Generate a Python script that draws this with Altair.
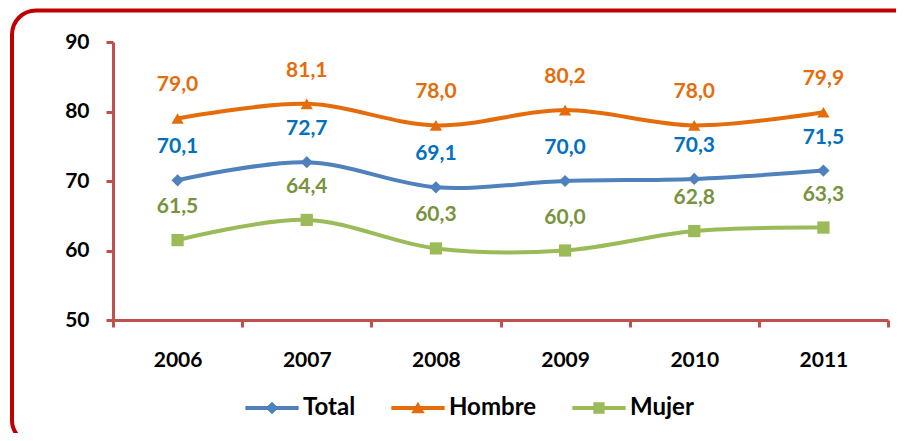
import altair as alt
import pandas as pd

years = ["2006", "2007", "2008", "2009", "2010", "2011"]
total = [70.1, 72.7, 69.1, 70.0, 70.3, 71.5]
hombre = [79.0, 81.1, 78.0, 80.2, 78.0, 79.9]
mujer = [61.5, 64.4, 60.3, 60.0, 62.8, 63.3]

series_names = ["Total", "Hombre", "Mujer"]
line_colors = ["#4F81BD", "#E46C0A", "#9BBB59"]
label_colors = ["#0070C0", "#E46C0A", "#77933C"]
marker_shapes = ["diamond", "triangle-up", "square"]

rows = []
for name, vals, lc in zip(series_names, [total, hombre, mujer], label_colors):
    for y, v in zip(years, vals):
        rows.append({"year": y, "value": v, "series": name,
                     "label": f"{v:.1f}".replace(".", ","), "lcolor": lc})
df = pd.DataFrame(rows)

FONT = "Lato"
AX = "#C0504D"

x_enc = alt.X("year:N", sort=years,
              scale=alt.Scale(type="band", paddingInner=0, paddingOuter=0),
              axis=alt.Axis(title=None, labelAngle=0, tickBand="extent",
                            domainColor=AX, domainWidth=3, tickColor=AX,
                            tickWidth=3, tickSize=7, labelPadding=22,
                            labelFont=FONT, labelFontSize=21,
                            labelFontWeight="bold", labelColor="black"))
y_enc = alt.Y("value:Q", scale=alt.Scale(domain=[50, 90]),
              axis=alt.Axis(title=None, values=[50, 60, 70, 80, 90], grid=False,
                            domainColor=AX, domainWidth=3, tickColor=AX,
                            tickWidth=3, tickSize=7, labelPadding=17,
                            labelFont=FONT, labelFontSize=21,
                            labelFontWeight="bold", labelColor="black"))

color_scale = alt.Scale(domain=series_names, range=line_colors)

legend_paths = [
    "M-2.6,-0.19H2.6V0.19H-2.6Z M0,-0.62L0.62,0L0,0.62L-0.62,0Z",
    "M-2.6,-0.19H2.6V0.19H-2.6Z M0,-0.62L0.66,0.52L-0.66,0.52Z",
    "M-2.6,-0.19H2.6V0.19H-2.6Z M-0.55,-0.55H0.55V0.55H-0.55Z",
]

legend = alt.Legend(title=None, orient="none", direction="horizontal",
                    legendX=147, legendY=354, symbolSize=420,
                    labelFont=FONT, labelFontSize=24, labelFontWeight="bold",
                    labelColor="black", labelOffset=19, columnPadding=35,
                    symbolOpacity=1, symbolStrokeWidth=0)

border = alt.Chart(pd.DataFrame({"a": [0]})).mark_rect(
    fill=None, stroke="#C00000", strokeWidth=4, cornerRadius=24
).encode(x=alt.value(-101), x2=alt.value(805), y=alt.value(-31.5), y2=alt.value(402))

base = alt.Chart(df)

lines = base.mark_line(interpolate="cardinal", strokeWidth=4).encode(
    x=x_enc, y=y_enc,
    color=alt.Color("series:N", scale=color_scale, sort=series_names, legend=legend),
    detail="series:N")

marker_layers = []
for name, col, shp in zip(series_names, line_colors, marker_shapes):
    marker_layers.append(
        base.transform_filter(alt.datum.series == name).mark_point(
            filled=True, opacity=1, color=col, shape=shp, size=150).encode(
            x=alt.X("year:N", sort=years), y="value:Q"))

legend_layer = base.mark_point(filled=True, opacity=0).encode(
    x=alt.X("year:N", sort=years), y="value:Q",
    color=alt.Color("series:N", scale=color_scale, sort=series_names, legend=legend),
    shape=alt.Shape("series:N", sort=series_names,
                    scale=alt.Scale(domain=series_names, range=legend_paths),
                    legend=legend))

texts = base.mark_text(dy=-33, font=FONT, fontSize=21, fontWeight="bold",
                       baseline="middle").encode(
    x=alt.X("year:N", sort=years), y="value:Q",
    text="label:N",
    color=alt.Color("lcolor:N", scale=None))

chart = alt.layer(border, lines, *marker_layers, legend_layer, texts).properties(
    width=775, height=278,
    autosize=alt.AutoSizeParams(type="none"),
    padding={"left": 105, "top": 34, "right": 8, "bottom": 113},
).configure_view(stroke=None)

chart.save("out.html", embed_options={"renderer": "svg", "actions": False})
